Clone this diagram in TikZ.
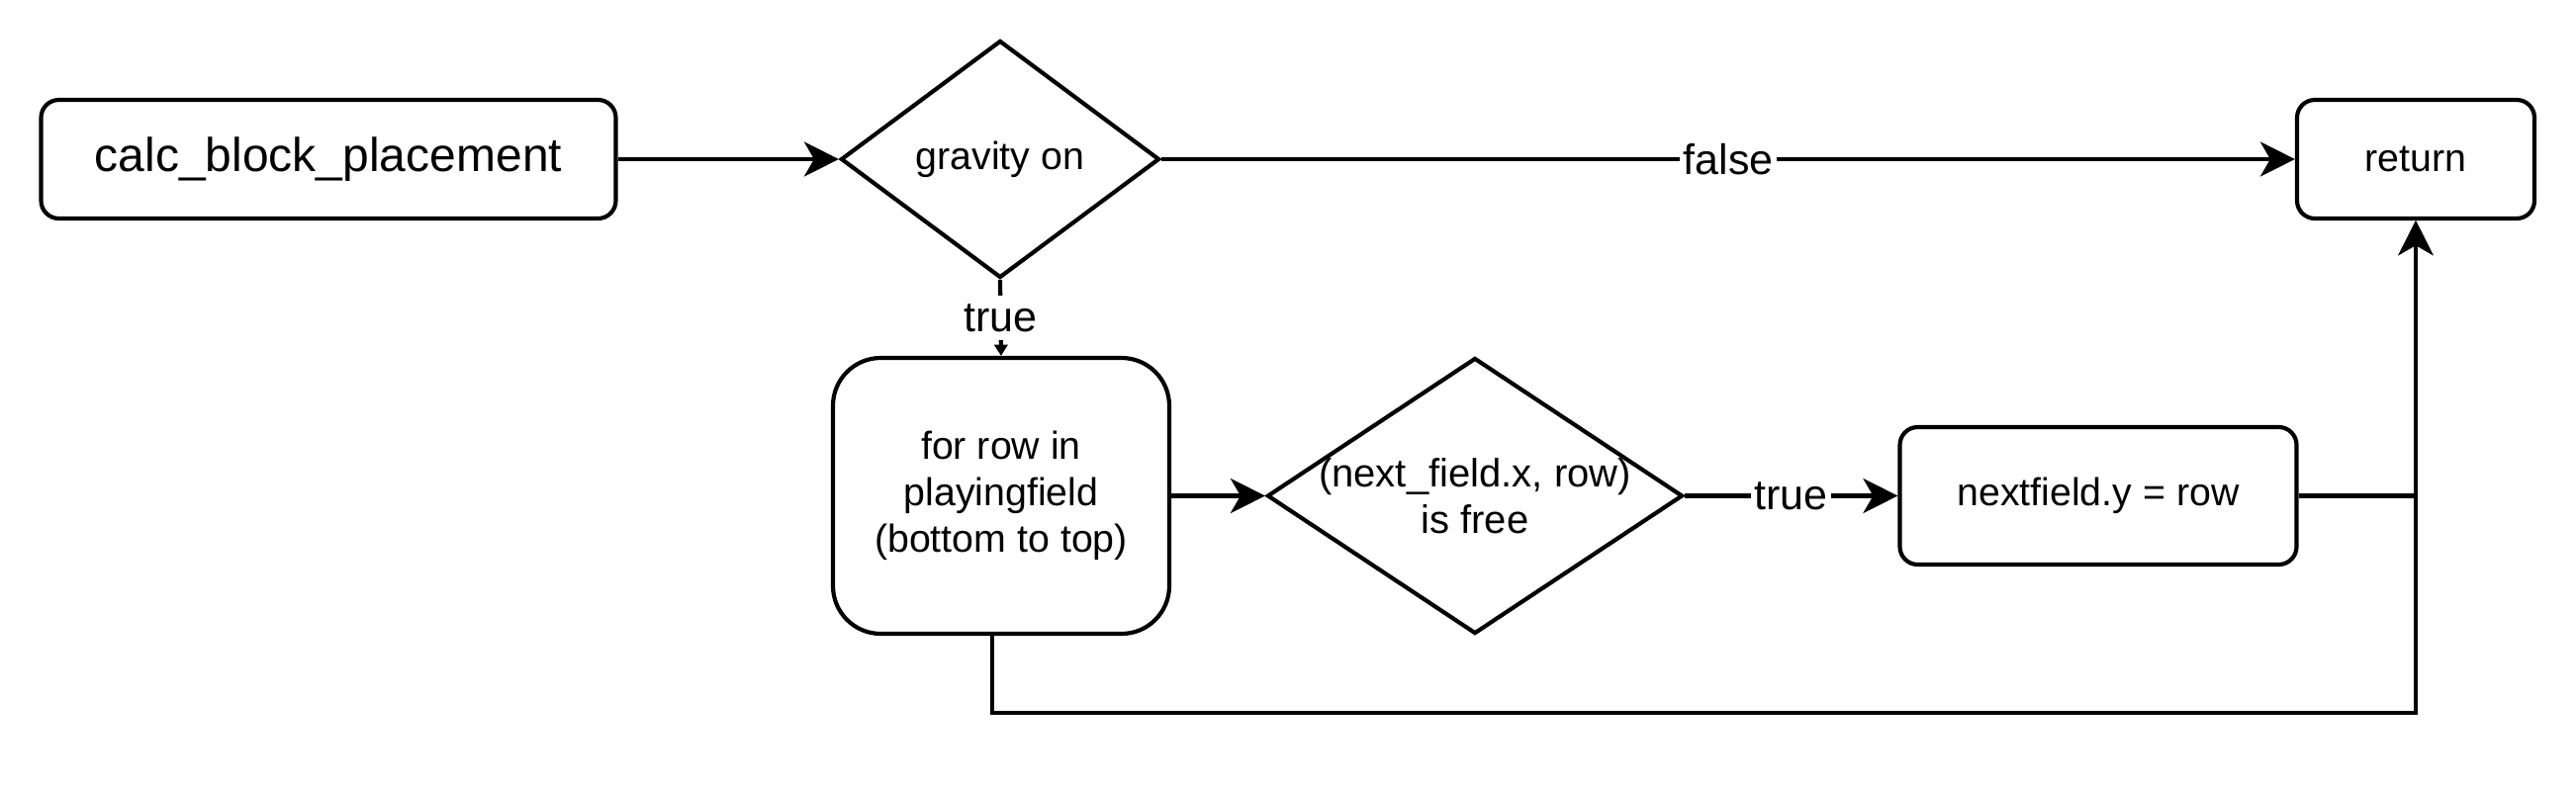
\documentclass[tikz,border=0pt]{standalone}
\usepackage{fontspec}
\setmainfont{Liberation Sans}
\usetikzlibrary{shapes.geometric}
\usetikzlibrary{arrows.meta}
\usetikzlibrary{positioning}

\tikzset{
  roundbox/.style={draw, line width=1.25pt, rounded corners=5.4pt, align=center, inner sep=0pt,
    font=\fontsize{11.8}{14.1}\selectfont},
  decision/.style={draw, diamond, line width=1.25pt, inner sep=0pt, align=center,
    font=\fontsize{11.8}{14.1}\selectfont},
  flow/.style={line width=1.25pt, -{Stealth[length=10.5pt,width=10.5pt,inset=3pt]}},
  edgelabel/.style={fill=white, inner sep=1pt, font=\fontsize{12.9}{15}\selectfont}
}

\begin{document}
\begin{tikzpicture}[x=0.3pt, y=-0.3pt]
\useasboundingbox (0,0) rectangle (2604,796);

% top row
  \node[roundbox, minimum width=174.3pt, minimum height=36pt, font=\fontsize{14.4}{17}\selectfont] (calc) at (332,161) {calc\_block\_placement};
  \node[decision, minimum width=96.6pt, minimum height=72pt] (gravity) at (1011,161) {gravity on};
  \node[roundbox, minimum width=72pt, minimum height=36pt] (ret) at (2442,161) {return};

% loop over the rows
  \node[roundbox, rounded corners=14.5pt, minimum width=102pt, minimum height=83.7pt] (loop) at (1012,501.5) {for row in\\playingfield\\(bottom to top)};
  \node[decision, minimum width=126pt, minimum height=83.7pt] (free) at (1491,501.5) {};
  \node[align=center, inner sep=0pt, font=\fontsize{12}{14.1}\selectfont] (freetext) at (free.center) {(next\_field.x, row)\\is free};
  \node[roundbox, minimum width=120.3pt, minimum height=41.7pt] (nextf) at (2121,501.5) {nextfield.y = row};

% connectors
  \draw[flow] (calc) -- (gravity);
  \draw[flow] (gravity) -- node[edgelabel]{false} (ret);
  \draw[line width=1.25pt, -{Triangle[length=3.4pt,width=4pt]}] (gravity.south) -- node[edgelabel, inner sep=2.5pt]{true} (loop.north);
  \draw[flow] (loop) -- (free);
  \draw[flow] (free) -- node[edgelabel]{true} (nextf);
  \draw[flow] (nextf.east) -| (ret.south);

  \coordinate (bottomright) at (2442,721);
  \draw[flow] ([xshift=-2.7pt]loop.south) |- (bottomright) -- (ret.south);

\end{tikzpicture}
\end{document}
